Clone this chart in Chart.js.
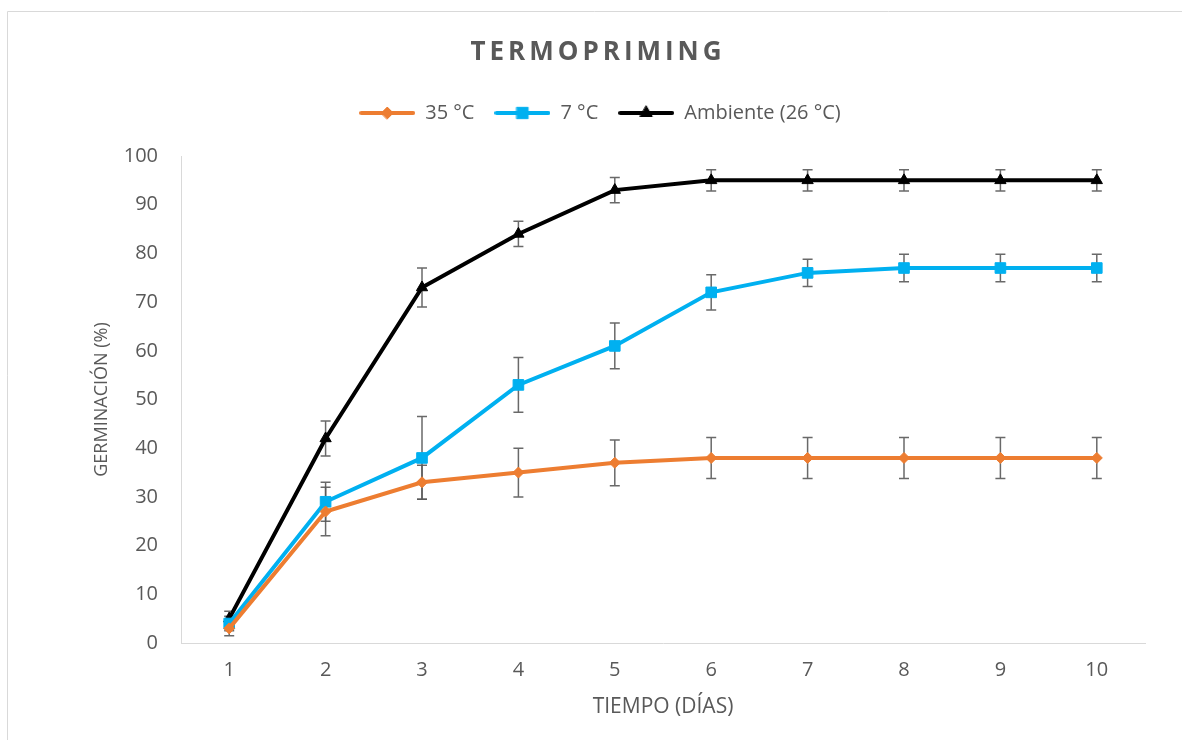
<!DOCTYPE html>
<html>

<head>
    <title>Termopriming</title>
    <script src="https://cdn.jsdelivr.net/npm/chart.js"></script>
    <style>
        body {
            margin: 0;
            background: white;
        }

        .chart-container {
            width: 1182px;
            height: 740px;
        }
    </style>
</head>

<body>
    <div class="chart-container">
        <canvas id="germChart" width="1182" height="740"></canvas>
    </div>

    <script>
        // dias del ensayo
        const days = ['1', '2', '3', '4', '5', '6', '7', '8', '9', '10'];

        // germinacion media (%) y error de cada tratamiento
        const temp35 = [3, 27, 33, 35, 37, 38, 38, 38, 38, 38];
        const err35 = [1.5, 5, 3.5, 5, 4.7, 4.2, 4.2, 4.2, 4.2, 4.2];
        const temp7 = [4, 29, 38, 53, 61, 72, 76, 77, 77, 77];
        const err7 = [1.5, 4, 8.5, 5.6, 4.7, 3.6, 2.8, 2.8, 2.8, 2.8];
        const ambiente = [5, 42, 73, 84, 93, 95, 95, 95, 95, 95];
        const errAmb = [1.5, 3.6, 4, 2.6, 2.6, 2.2, 2.2, 2.2, 2.2, 2.2];

        const yTicks = [0, 10, 20, 30, 40, 50, 60, 70, 80, 90, 100];

        const textColor = '#595959';
        const fontFamily = '"Open Sans", sans-serif';

        // legend icon: short line with the marker in the middle
        function legendIcon(color, style, radius) {
            const c = document.createElement('canvas');
            c.width = 56;
            c.height = 18;
            const g = c.getContext('2d');
            g.strokeStyle = color;
            g.lineWidth = 4;
            g.lineCap = 'round';
            g.beginPath();
            g.moveTo(2, 9);
            g.lineTo(54, 9);
            g.stroke();
            g.fillStyle = color;
            g.lineWidth = 1;
            Chart.helpers.drawPoint(g, { pointStyle: style, radius: radius, borderWidth: 1 }, 28, 9);
            return c;
        }

        const frameAndTitle = {
            id: 'frameAndTitle',
            afterInit(chart) {
                // fixed legend height so the plot starts lower
                const legend = chart.legend;
                const origFit = legend.fit;
                legend.fit = function () {
                    origFit.call(this);
                    this.height = 73;
                };
            },
            beforeDraw(chart) {
                const ctx = chart.ctx;
                ctx.save();
                ctx.strokeStyle = '#d9d9d9';
                ctx.lineWidth = 1;
                ctx.beginPath();
                ctx.moveTo(7.5, 740);
                ctx.lineTo(7.5, 11.5);
                ctx.lineTo(1182, 11.5);
                ctx.stroke();

                ctx.fillStyle = textColor;
                ctx.font = 'bold 26px ' + fontFamily;
                ctx.letterSpacing = '4px';
                ctx.textAlign = 'center';
                ctx.textBaseline = 'middle';
                ctx.fillText('TERMOPRIMING', 598, 53);
                ctx.restore();
            }
        };

        const errorBars = {
            id: 'errorBars',
            beforeDatasetsDraw(chart) {
                const ctx = chart.ctx;
                const x = chart.scales.x;
                const y = chart.scales.y;
                ctx.save();
                ctx.strokeStyle = 'rgba(89, 89, 89, 0.9)';
                ctx.lineWidth = 1.5;
                chart.data.datasets.forEach(ds => {
                    ds.data.forEach((v, i) => {
                        const px = x.getPixelForValue(i);
                        const top = y.getPixelForValue(v + ds.errors[i]);
                        const bot = y.getPixelForValue(v - ds.errors[i]);
                        ctx.beginPath();
                        ctx.moveTo(px, top);
                        ctx.lineTo(px, bot);
                        ctx.moveTo(px - 5, top);
                        ctx.lineTo(px + 5, top);
                        ctx.moveTo(px - 5, bot);
                        ctx.lineTo(px + 5, bot);
                        ctx.stroke();
                    });
                });
                ctx.restore();
            }
        };

        function createChart() {
            const ctx = document.getElementById('germChart').getContext('2d');
            const icons = [
                legendIcon('#ED7D31', 'rectRot', 6),
                legendIcon('#00B0F0', 'rect', 8),
                legendIcon('#000000', 'triangle', 7)
            ];

            new Chart(ctx, {
                type: 'line',
                data: {
                    labels: days,
                    datasets: [{
                        label: '35 °C',
                        data: temp35,
                        errors: err35,
                        borderColor: '#ED7D31',
                        backgroundColor: '#ED7D31',
                        pointStyle: 'rectRot',
                        pointRadius: 5.5
                    }, {
                        label: '7 °C',
                        data: temp7,
                        errors: err7,
                        borderColor: '#00B0F0',
                        backgroundColor: '#00B0F0',
                        pointStyle: 'rect',
                        pointRadius: 7.5
                    }, {
                        label: 'Ambiente (26 °C)',
                        data: ambiente,
                        errors: errAmb,
                        borderColor: '#000000',
                        backgroundColor: '#000000',
                        pointStyle: 'triangle',
                        pointRadius: 6.5
                    }]
                },
                options: {
                    responsive: false,
                    animation: false,
                    datasets: {
                        line: {
                            borderWidth: 4,
                            tension: 0,
                            pointBorderWidth: 1
                        }
                    },
                    layout: {
                        padding: { top: 83, left: 55, right: 37, bottom: 20 }
                    },
                    plugins: {
                        title: { display: false },
                        tooltip: { enabled: false },
                        legend: {
                            position: 'top',
                            labels: {
                                usePointStyle: true,
                                pointStyleWidth: 56,
                                padding: 20,
                                color: textColor,
                                font: { family: fontFamily, size: 20 },
                                generateLabels(chart) {
                                    const items = Chart.defaults.plugins.legend.labels.generateLabels(chart);
                                    items.forEach((it, i) => { it.pointStyle = icons[i]; });
                                    return items;
                                }
                            }
                        }
                    },
                    scales: {
                        x: {
                            type: 'category',
                            offset: true,
                            grid: { display: false, drawTicks: false },
                            border: { display: true, color: '#d9d9d9', width: 1 },
                            ticks: {
                                color: textColor,
                                padding: 15,
                                font: { family: fontFamily, size: 20 }
                            },
                            title: {
                                display: true,
                                text: 'TIEMPO (DÍAS)',
                                color: textColor,
                                padding: { top: 0, bottom: 0 },
                                font: { family: fontFamily, size: 21 }
                            },
                            afterFit(scale) { scale.height = 77; }
                        },
                        y: {
                            min: 0,
                            max: 100,
                            grid: { display: false, drawTicks: false },
                            border: { display: true, color: '#d9d9d9', width: 1 },
                            afterBuildTicks(scale) {
                                scale.ticks = yTicks.map(v => ({ value: v }));
                            },
                            ticks: {
                                color: textColor,
                                padding: 23,
                                font: { family: fontFamily, size: 20 }
                            },
                            title: {
                                display: true,
                                text: 'GERMINACIÓN (%)',
                                color: textColor,
                                padding: { top: 36, bottom: 0 },
                                font: { family: fontFamily, size: 18 }
                            },
                            afterFit(scale) { scale.width = 126; }
                        }
                    }
                },
                plugins: [frameAndTitle, errorBars]
            });
        }

        document.addEventListener('DOMContentLoaded', createChart);
    </script>
</body>

</html>
